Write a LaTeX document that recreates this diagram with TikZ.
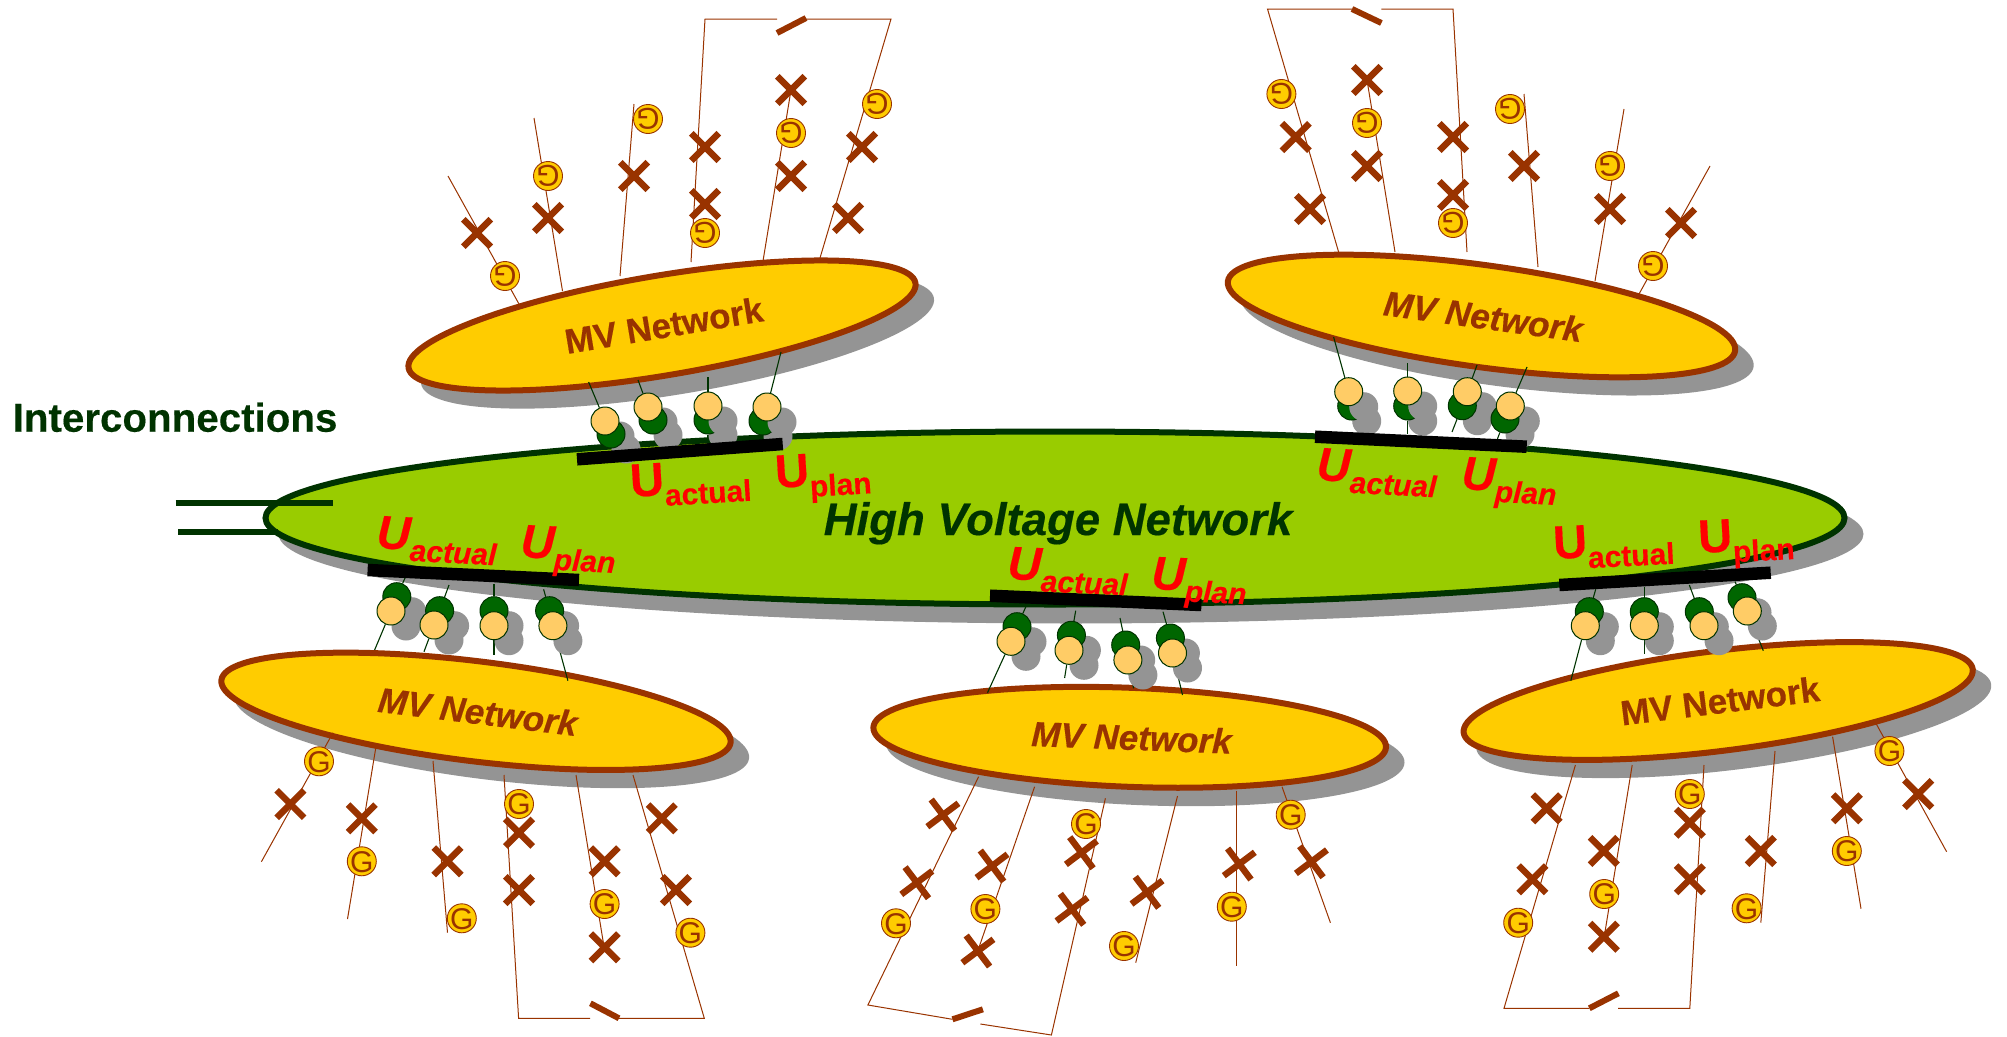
\documentclass[tikz,border=0pt]{standalone}
\usepackage{fontspec}
\setmainfont[BoldFeatures={FakeBold=0.35},BoldItalicFeatures={FakeBold=0.35}]{Liberation Sans}
\usetikzlibrary{shapes.geometric,shapes.misc}
\pgfdeclarelayer{base}
\pgfdeclarelayer{wires}
\pgfdeclarelayer{top}
\pgfsetlayers{base,wires,main,top}
\definecolor{shadowc}{HTML}{949494}
\definecolor{brownc}{HTML}{993300}
\definecolor{mvfill}{HTML}{FFCC00}
\definecolor{hvfill}{HTML}{99CC00}
\definecolor{darkg}{HTML}{003300}
\definecolor{pingreen}{HTML}{006600}
\definecolor{pintan}{HTML}{FFCC66}
\tikzset{
  shadowell/.style={ellipse,fill=shadowc,inner sep=0pt,outer sep=0pt},
  mvell/.style={ellipse,draw=brownc,fill=mvfill,line width=6pt,inner sep=0pt,outer sep=0pt,text=brownc,font=\fontsize{35}{35}\selectfont\bfseries},
  hvell/.style={ellipse,draw=darkg,fill=hvfill,line width=6pt,inner sep=0pt,outer sep=0pt,minimum width=1579pt,minimum height=173pt,text=darkg,font=\fontsize{45.5}{45.5}\selectfont\bfseries\itshape},
  feeder/.style={draw=brownc,line width=1pt,line join=miter},
  swline/.style={draw=brownc,line width=6pt},
  pinline/.style={draw=darkg,line width=1.1pt},
  hvbar/.style={draw=black,line width=12.5pt},
  intie/.style={draw=darkg,line width=6pt},
  xsym/.style={cross out,draw=brownc,line width=6.5pt,minimum size=27.5pt,inner sep=0pt,outer sep=0pt},
  gsym/.style={circle,draw=brownc,fill=mvfill,line width=0.9pt,minimum size=29pt,inner sep=0pt,text=brownc,font=\fontsize{30}{30}\selectfont},
  gpin/.style={circle,draw=darkg,fill=pingreen,line width=1pt,minimum size=28pt,inner sep=0pt},
  tpin/.style={circle,draw=darkg,fill=pintan,line width=1pt,minimum size=28pt,inner sep=0pt},
  spin/.style={circle,fill=shadowc,minimum size=29pt,inner sep=0pt},
  ulabel/.style={inner sep=0pt,outer sep=0pt,text=red,anchor=base west,font=\fontsize{47}{47}\selectfont\bfseries},
}
\newcommand\Gtext{\raisebox{-0.358em}[0pt][0pt]{\makebox[0pt]{G}}}
\newcommand\mvnet[7]{% name,x,y,a,b,rot,font
  \begin{pgfonlayer}{base}
  \node[shadowell,rotate=#6,minimum width=2*#4+6pt,minimum height=2*#5+6pt] (#1shadow) at (#2+15.5,#3+15.5) {};
  \node[mvell,rotate=#6,minimum width=2*#4 pt,minimum height=2*#5 pt] (#1) at (#2,#3) {\hspace{-6pt}\raisebox{-12.5pt}[0pt][0pt]{#7 MV Network}};
  \end{pgfonlayer}}
\newcommand\wireset[2]{\begin{pgfonlayer}{wires}\foreach \xa/\ya/\xb/\yb [count=\i] in {#2} {\coordinate (#1a\i) at (\xa,\ya); \coordinate (#1b\i) at (\xb,\yb); \draw[feeder] (#1a\i) -- (#1b\i);}\end{pgfonlayer}}
\newcommand\bracketline[4]{\coordinate (#1p) at (#2); \coordinate (#1q) at (#3); \coordinate (#1r) at (#4);\begin{pgfonlayer}{wires}\draw[feeder] (#1p) -- (#1q) -- (#1r);\end{pgfonlayer}}
\newcommand\swbar[3]{\coordinate (#1p) at (#2); \coordinate (#1q) at (#3); \draw[swline] (#1p) -- (#1q);}
\newcommand\xset[3]{\foreach \px/\py [count=\i] in {#3} {\node[xsym,rotate=#2] (#1\i) at (\px,\py) {};}}
\newcommand\gset[3]{\foreach \px/\py [count=\i] in {#3} {\node[gsym,rotate=#2] (#1\i) at (\px,\py) {\Gtext};}}
% tan's shadow over the green disc
\newcommand\mypin[5]{%
  \node[spin] (#1gs) at (#2+15,#3+15) {};
  \node[gpin] (#1g) at (#2,#3) {};
  \node[spin] (#1ts) at (#4+15,#5+15) {};
  \node[tpin] (#1t) at (#4,#5) {};}
% green disc over tan's shadow
\newcommand\mypinb[5]{%
  \node[spin] (#1gs) at (#2+15,#3+15) {};
  \node[spin] (#1ts) at (#4+15,#5+15) {};
  \node[gpin] (#1g) at (#2,#3) {};
  \node[tpin] (#1t) at (#4,#5) {};}
\newcommand\pintie[3]{\coordinate (#1end) at (#2,#3);\begin{pgfonlayer}{wires}\draw[pinline] (#1) -- (#1end);\end{pgfonlayer}}
\newcommand\hvb[5]{\coordinate (#1a) at (#2,#3); \coordinate (#1b) at (#4,#5); \begin{pgfonlayer}{top}\draw[hvbar] (#1a) -- (#1b);\end{pgfonlayer}}
\newcommand\ulab[6]{\begin{pgfonlayer}{top}\node[ulabel,rotate=#4] (#1) at (#2,#3) {#6U\raisebox{-11pt}{\fontsize{30}{30}\selectfont #5}};\end{pgfonlayer}}
\begin{document}
\begin{tikzpicture}[x=1pt,y=-1pt]
\useasboundingbox (0,0) rectangle (2007,1036);
% High voltage network
\begin{pgfonlayer}{base}
\node[shadowell,minimum width=1585pt,minimum height=179pt] (hvshadow) at (1071,534) {};
\node[hvell] (hv) at (1055,518) {\hspace{6pt}\raisebox{-17pt}[0pt][0pt]{High Voltage Network}};
\end{pgfonlayer}
\node[anchor=base west,inner sep=0pt,text=darkg,font=\fontsize{40.3}{40.3}\selectfont\bfseries] (title) at (12.5,431.7) {Interconnections};
\coordinate (ia) at (175.5,503.3); \coordinate (ib) at (332.7,503.3);
\coordinate (ic) at (178.4,532); \coordinate (id) at (277.6,532);
\draw[intie] (ia) -- (ib);
\draw[intie] (ic) -- (id);
% MV networks
\mvnet{mvA}{662}{325.5}{257}{50}{9.5}{}
\mvnet{mvB}{1481.5}{316}{256}{51}{-7.8}{\itshape}
\mvnet{mvC}{476}{711.3}{256.5}{50}{-7}{\itshape}
\mvnet{mvD}{1129.7}{737.3}{256.5}{49.5}{-2.2}{\itshape}
\mvnet{mvE}{1718.2}{701}{256.5}{50}{7.1}{}
% Pins A
\mypinb{pA1}{611}{434}{605}{421}
\mypinb{pA2}{653}{420}{648}{407}
\mypin{pA3}{708}{420}{708}{406}
\mypin{pA4}{763}{421}{767}{407}
\pintie{pA1t}{588.6}{382}\pintie{pA2t}{638}{380}\pintie{pA3t}{708}{377}\pintie{pA4t}{781}{352}
\pintie{pA3g}{708}{445}\pintie{pA4g}{758}{445}
% Pins B
\mypin{pB1}{1351.7}{406}{1348.7}{391.7}
\mypin{pB2}{1407.7}{406}{1407.7}{391}
\mypinb{pB3}{1462.3}{405.7}{1467.3}{391.7}
\mypinb{pB4}{1505}{419}{1510.3}{406}
\pintie{pB1t}{1333.6}{337}\pintie{pB2t}{1407.7}{363}\pintie{pB3t}{1477}{365}\pintie{pB4t}{1527}{367}
\pintie{pB2g}{1407.7}{434}\pintie{pB3g}{1452}{432}\pintie{pB4g}{1497}{440}
% Pins C
\mypinb{pC1}{396.8}{596.7}{391}{611}
\mypinb{pC2}{439.6}{610.7}{434}{625}
\mypinb{pC3}{494}{610.7}{494}{625.7}
\mypinb{pC4}{549.6}{610.7}{552.9}{625.7}
\pintie{pC1g}{405}{578}\pintie{pC2g}{449}{585}\pintie{pC3g}{494}{584}\pintie{pC4g}{543.6}{589.3}
\pintie{pC1t}{374.6}{650}\pintie{pC2t}{424}{651.7}\pintie{pC3t}{494}{655}\pintie{pC4t}{567.9}{680.7}
% Pins D
\mypinb{pD1}{1017}{626.7}{1011}{641.3}
\mypinb{pD2}{1071.4}{635.3}{1069}{650.3}
\mypinb{pD3}{1125.7}{645}{1127.9}{660}
\mypinb{pD4}{1170.4}{638}{1172.5}{653}
\pintie{pD1g}{1027.5}{603}\pintie{pD2g}{1075.7}{610.7}\pintie{pD3g}{1120}{618}\pintie{pD4g}{1163}{611.7}
\pintie{pD1t}{987.5}{692.7}\pintie{pD2t}{1064.6}{678}\pintie{pD3t}{1133.6}{688.3}\pintie{pD4t}{1182.5}{695}
% Pins E
\mypinb{pE1}{1589.3}{611.7}{1585.3}{625.7}
\mypinb{pE2}{1644.3}{611.7}{1644.3}{625.7}
\mypinb{pE3}{1699.3}{611.7}{1704}{625.7}
\mypinb{pE4}{1742}{597.7}{1747.3}{611}
\pintie{pE1g}{1595.7}{589.3}\pintie{pE2g}{1644.3}{586.7}\pintie{pE3g}{1689.3}{585}\pintie{pE4g}{1735}{581.7}
\pintie{pE1t}{1570.8}{680.7}\pintie{pE2t}{1644.3}{654.3}\pintie{pE3t}{1714.3}{651.7}\pintie{pE4t}{1763.3}{650.7}
% Bars
\hvb{barA}{577}{459.3}{782.7}{444}
\hvb{barB}{1315}{436.7}{1526.7}{446.7}
\hvb{barC}{367.6}{570}{579}{580}
\hvb{barD}{990}{595.7}{1201.4}{605}
\hvb{barE}{1559.3}{585}{1770.7}{572.7}
% Labels
\ulab{uA1}{631}{497}{3.5}{actual}{}
\ulab{uA2}{776}{488}{3.5}{plan}{}
\ulab{uB1}{1316}{480}{-3}{actual}{\itshape}
\ulab{uB2}{1461}{489}{-3}{plan}{\itshape}
\ulab{uC1}{376}{548}{-3}{actual}{\itshape}
\ulab{uC2}{520}{557}{-3}{plan}{\itshape}
\ulab{uD1}{1007}{579}{-2.5}{actual}{\itshape}
\ulab{uD2}{1151}{589}{-2.5}{plan}{\itshape}
\ulab{uE1}{1554}{559}{3}{actual}{}
\ulab{uE2}{1699}{553}{3}{plan}{}
% Feeders A
\wireset{fA}{448/176/519/304,534/118/562.5/291,634/104/620/276,791/90/763/261}
\bracketline{brA1}{691,262}{705,19}{777,19}
\bracketline{brA2}{806,19}{891,19}{820,258}
\swbar{swA}{777,33}{806,18}
\xset{xA}{0}{477/233,548/218,634/176,705/147,705/204,791/90,791/176,862/147,848/218}
\gset{gA}{180}{505/276,548/176,648/119,705/233,791/133,877/104}
% Feeders B
\wireset{fB}{1367/80/1395/252,1524/94/1538/267,1624/109/1595/281,1710/166/1639/294}
\bracketline{brB1}{1338.6,252}{1267.5,9}{1352,9}
\bracketline{brB2}{1381.4,9}{1453,9}{1467,252}
\swbar{swB}{1352,9}{1381.4,23}
\xset{xB}{0}{1295.7/137,1310/209,1367/80,1367/166,1453/137,1453/195,1524/166,1610/209,1681/223}
\gset{gB}{180}{1281.4/94,1367/123,1453/223,1510/109,1610/166,1653/266}
% Feeders C
\wireset{fC}{261.4/861.7/333/732.7,347.5/919/375.7/748.3,433/761/447.5/932.7,576/775/604/946.7}
\bracketline{brC1}{504,775}{518.6,1018.3}{590,1018.3}
\bracketline{brC2}{618.6,1018.3}{704.3,1018.3}{633,775}
\swbar{swC}{590.4,1003.3}{619,1018.3}
\xset{xC}{0}{290.4/804,361.8/818.3,447.5/861.3,519/832.7,519/890,604.6/861.3,604.6/947.3,661.8/818.3,676/890}
\gset{gC}{0}{319/761.3,361.8/861.3,461.8/918.3,519/804,604.6/904,690.4/932.7}
% Feeders D
\wireset{fD}{1034.6/786.7/977.5/951.7,1177.5/796/1135.7/962.7,1236.4/790.7/1236.4/965.7,1282/786.7/1330.4/922.7}
\bracketline{brD1}{978.6,776.7}{867.9,1005}{952.5,1019.3}
\bracketline{brD2}{980.4,1024}{1051.4,1035}{1105.4,798.3}
\swbar{swD}{952.5,1019.3}{982.9,1009.3}
\xset{xD}{-8}{942.9/815,916.8/882.7,992/866,977.9/951,1081.4/852.7,1072/909.3,1147/892.3,1239.3/864,1311.4/861.7}
\gset{gD}{0}{896/923.3,985.4/909,1086/824,1124/946,1231.8/906.7,1290.7/814.7}
% Feeders E
\wireset{fE}{1632.2/765/1604.2/936.7,1775/751/1760.8/922.7,1832.6/736.7/1861/908.7,1876.3/724/1946.6/851.7}
\bracketline{brE1}{1575.4,765}{1504,1008.3}{1589.3,1008.3}
\bracketline{brE2}{1618,1008.3}{1689.8,1008.3}{1704,765}
\swbar{swE}{1589.3,1008.3}{1618.4,993.3}
\xset{xE}{0}{1546.6/808.3,1532.4/879.3,1603.8/851,1603.8/936.7,1689.8/822.7,1689.8/879.3,1760.8/851,1846.8/808.3,1918.2/794}
\gset{gE}{0}{1518.2/922.7,1604.2/894,1689.8/794,1746.6/908.3,1846.8/851,1889.4/751}
\end{tikzpicture}
\end{document}
